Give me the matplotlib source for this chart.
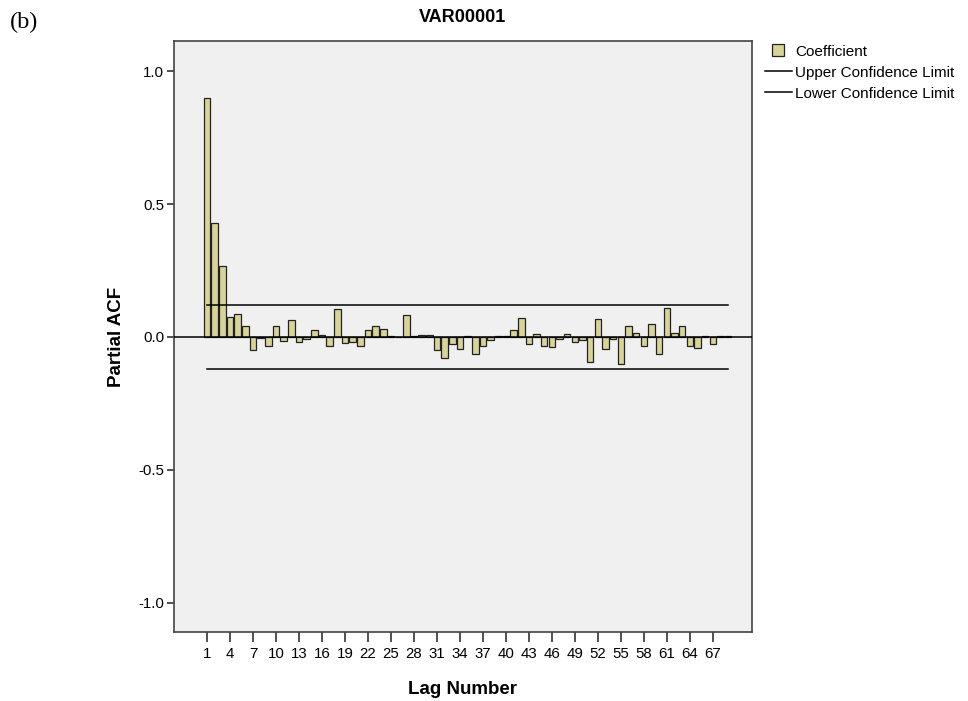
import numpy as np
import matplotlib
matplotlib.use("Agg")
import matplotlib.pyplot as plt
from matplotlib.lines import Line2D

plt.rcParams['font.family'] = ['Liberation Sans', 'DejaVu Sans']

# partial autocorrelation coefficients, lags 1..69
lags = np.arange(1, 70)
pacf = [0.90, 0.43, 0.267, 0.075, 0.088, 0.041, -0.05, -0.005, -0.034, 0.04,
        -0.015, 0.065, -0.018, -0.006, 0.028, 0.008, -0.035, 0.105, -0.024, -0.018,
        -0.035, 0.027, 0.042, 0.03, 0.002, -0.002, 0.083, 0.003, 0.008, 0.009,
        -0.05, -0.078, -0.027, -0.044, 0.002, -0.063, -0.034, -0.013, 0.005, 0.003,
        0.025, 0.07, -0.027, 0.012, -0.034, -0.036, -0.009, 0.01, -0.018, -0.013,
        -0.094, 0.066, -0.046, -0.009, -0.103, 0.04, 0.015, -0.034, 0.047, -0.065,
        0.11, 0.015, 0.04, -0.035, -0.04, 0.003, -0.028, 0.002, 0.002]
upper_limit = 0.12
lower_limit = -0.12
xtick_lags = list(range(1, 68, 3))
ytick_vals = [-1.0, -0.5, 0.0, 0.5, 1.0]

BAR_COLOR = '#d8d29b'
EDGE = '#222222'

fig = plt.figure(figsize=(9.68, 7.01), dpi=100)
ax = fig.add_axes([0.1798, 0.0984, 0.597, 0.843])
ax.set_facecolor('#f0f0f0')

ax.bar(lags, pacf, width=0.85, color=BAR_COLOR, edgecolor=EDGE, linewidth=0.9, zorder=2)
ax.axhline(0, color='black', linewidth=1.1, zorder=3)
ax.plot([lags[0], lags[-1]], [upper_limit, upper_limit], color='black', linewidth=1.1, zorder=3)
ax.plot([lags[0], lags[-1]], [lower_limit, lower_limit], color='black', linewidth=1.1, zorder=3)

ax.set_xlim(-3.3, 72.1)
ax.set_ylim(-1.11, 1.113)
ax.set_xticks(xtick_lags)
ax.set_xticklabels([str(v) for v in xtick_lags], fontsize=10.8)
ax.set_yticks(ytick_vals)
ax.set_yticklabels(['%.1f' % v for v in ytick_vals], fontsize=10.8)
ax.tick_params(axis='x', direction='out', length=7, width=1.2, color='#333333', pad=4)
ax.tick_params(axis='y', direction='out', length=5, width=1.2, color='#333333', pad=2)
for sp in ax.spines.values():
    sp.set_color('#444444')
    sp.set_linewidth(1.2)

ax.set_title('VAR00001', fontsize=13, fontweight='bold', pad=14)
ax.set_xlabel('Lag Number', fontsize=13.5, fontweight='bold', labelpad=14)
ax.set_ylabel('Partial ACF', fontsize=13.5, fontweight='bold', labelpad=10)

handles = [
    Line2D([0], [0], linestyle='none', marker='s', markersize=9,
           markerfacecolor=BAR_COLOR, markeredgecolor=EDGE, markeredgewidth=0.9),
    Line2D([0], [0], color='black', linewidth=1.1),
    Line2D([0], [0], color='black', linewidth=1.1),
]
fig.legend(handles, ['Coefficient', 'Upper Confidence Limit', 'Lower Confidence Limit'],
           loc='upper left', bbox_to_anchor=(0.784, 0.945), frameon=False,
           fontsize=11, handlelength=1.75, handletextpad=0.2,
           labelspacing=0.46, borderaxespad=0)

fig.text(0.01, 0.968, '(b)', fontsize=17.5, family='Liberation Serif', va='center')

fig.savefig('out.png', dpi=100, facecolor='white')
